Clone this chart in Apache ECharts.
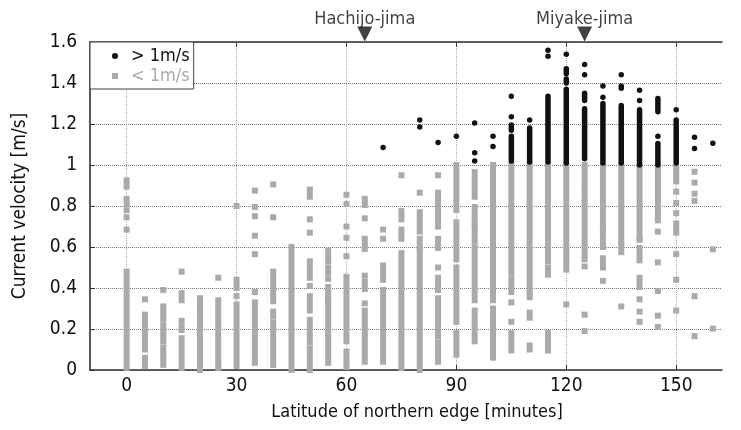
<!DOCTYPE html>
<html>
<head>
<meta charset="utf-8">
<script src="https://cdn.jsdelivr.net/npm/echarts@6/dist/echarts.min.js"></script>
<style>
  html, body { margin: 0; padding: 0; background: #fff; }
  #chart { width: 741px; height: 430px; }
</style>
</head>
<body>
<div id="chart"></div>
<script>
// latitude of northern edge [minutes], one column every 5 minutes
const latitudes = [0,5,10,15,20,25,30,35,40,45,50,55,60,65,70,75,80,85,90,95,100,105,110,115,120,125,130,135,140,145,150,155,160];

// velocities read per column; a number is one point, [lo, hi] is a run of packed points
const slowRuns = [ // < 1 m/s
  [[0.01,0.285],[0.31,0.48],0.685,0.745,0.78,[0.81,0.835],[0.895,0.925]],
  [[0.02,0.06],[0.10,0.17],0.19,[0.22,0.27],0.345],
  [[0.025,0.11],[0.14,0.215],0.245,[0.27,0.31],0.39],
  [[0.01,0.155],[0.195,0.21],0.24,[0.34,0.375],0.48],
  [[0.0,0.29],[0.315,0.35]],
  [0.01,[0.03,0.195],[0.22,0.34],0.45],
  [[0.02,0.32],0.36,[0.40,0.44],0.80],
  [[0.035,0.205],[0.22,0.33],0.38,0.565,0.655,0.75,0.795,0.875],
  [[0.025,0.23],[0.26,0.285],[0.335,0.375],[0.40,0.48],0.745,0.905],
  [[0.0,0.60]],
  [[0.0,0.105],[0.135,0.245],[0.29,0.36],0.41,[0.45,0.53],0.67,0.735,[0.845,0.88]],
  [[0.035,0.34],[0.345,0.405],0.445,[0.475,0.50],[0.53,0.58]],
  [0.015,[0.035,0.09],[0.14,0.39],[0.41,0.455],0.555,0.645,0.70,0.81,0.855],
  [[0.04,0.29],0.325,[0.395,0.43],0.46,[0.59,0.64],0.74,[0.805,0.835]],
  [[0.04,0.39],[0.44,0.51],0.64,0.685],
  [[0.01,0.57],[0.64,0.685],[0.735,0.775],0.95],
  [[0.0,0.585],[0.60,0.64],[0.675,0.77],0.865],
  [[0.04,0.135],[0.165,0.35],[0.39,0.45],0.50,[0.595,0.64],[0.70,0.865],0.95],
  [[0.075,0.18],[0.235,0.50],[0.54,0.72],[0.78,1.0]],
  [[0.14,0.205],[0.23,0.29],[0.34,0.595],[0.625,0.70],[0.715,0.795],[0.845,0.965]],
  [0.06,[0.08,0.195],[0.22,0.30],[0.34,0.82],[0.845,1.0]],
  [0.095,[0.12,0.18],0.235,0.33,[0.38,0.44],[0.47,1.0]],
  [[0.10,0.12],[0.255,0.28],0.355,[0.38,1.0]],
  [0.095,[0.12,0.18],[0.465,0.50],[0.53,1.0]],
  [0.32,[0.49,0.545],[0.56,1.0]],
  [0.19,0.27,0.505,[0.54,0.875],[0.90,1.0]],
  [0.435,[0.50,0.545],[0.60,0.68],[0.70,1.0]],
  [0.31,[0.575,0.61],[0.625,0.675],[0.70,1.0]],
  [0.235,0.285,0.345,[0.405,0.45],[0.535,0.595],0.635,[0.645,0.99]],
  [0.21,0.265,0.385,0.525,0.675,0.73,[0.75,0.99]],
  [0.29,0.44,0.565,[0.67,0.715],0.765,0.815,0.87,0.92,[0.94,0.99]],
  [0.165,0.36,0.825,0.86,0.914,0.967],
  [0.202,0.589]
];

const fastRuns = [ // > 1 m/s
  [],[],[],[],[],[],[],[],[],[],[],[],[],[],
  [1.085],
  [],
  [1.185,1.22],
  [1.11],
  [1.14],
  [1.02,1.06,1.205],
  [1.09,1.14],
  [[1.02,1.14],[1.17,1.195],1.235,1.335],
  [[1.015,1.18],1.22],
  [[1.015,1.335],1.53,1.56],
  [[1.01,1.37],[1.40,1.42],[1.445,1.47],1.54],
  [[1.03,1.275],[1.315,1.35],1.44,1.49],
  [[1.01,1.30],1.33,1.385],
  [[1.01,1.29],[1.375,1.385],1.44],
  [[1.0,1.27],1.315,1.365],
  [[1.0,1.105],1.14,[1.26,1.325]],
  [[1.01,1.22],1.27],
  [1.08,1.135],
  [1.106]
];

const xTicks = [0,30,60,90,120,150];
const islands = [['Hachijo-jima', 65], ['Miyake-jima', 125]];

const FONT = "'DejaVu Sans Condensed', 'DejaVu Sans', sans-serif";

function toRows(runs) {
  const rows = [];
  runs.forEach((col, i) => {
    col.forEach(r => {
      const lo = Array.isArray(r) ? r[0] : r;
      const hi = Array.isArray(r) ? r[1] : r;
      rows.push([latitudes[i], lo, hi]);
    });
  });
  return rows;
}

function runShape(size, round) {
  return function (params, api) {
    const top = api.coord([api.value(0), api.value(2)]);
    const bot = api.coord([api.value(0), api.value(1)]);
    return {
      type: 'rect',
      shape: {
        x: top[0] - size / 2,
        y: top[1] - size / 2,
        width: size,
        height: bot[1] - top[1] + size,
        r: round ? size / 2 : 0
      },
      style: { fill: api.visual('color') }
    };
  };
}

var myChart = echarts.init(document.getElementById('chart'));
var option = {
  animation: false,
  textStyle: { fontFamily: FONT },
  grid: { left: 90, right: 19, top: 42, bottom: 60 },
  legend: {
    orient: 'vertical',
    left: 90,
    top: 42,
    padding: [5, 4, 4, 22],
    itemGap: 2,
    itemWidth: 6,
    itemHeight: 6,
    borderColor: '#444',
    borderWidth: 1,
    backgroundColor: '#fff',
    textStyle: { fontSize: 18, fontFamily: FONT, padding: [0, 0, 0, 8] },
    data: [
      { name: '> 1m/s', icon: 'circle', textStyle: { color: '#111' } },
      { name: '< 1m/s', icon: 'rect', textStyle: { color: '#aaa' } }
    ]
  },
  xAxis: [{
    type: 'value',
    min: -10,
    max: 162.5,
    name: 'Latitude of northern edge [minutes]',
    nameLocation: 'middle',
    nameGap: 33,
    nameTextStyle: { fontSize: 18, color: '#111', padding: [0, 0, 0, 22] },
    axisLine: { lineStyle: { color: '#333', width: 1.5 } },
    axisTick: { inside: true, length: 5, customValues: xTicks, lineStyle: { color: '#333' } },
    axisLabel: { customValues: xTicks, fontSize: 19, color: '#111', margin: 7 },
    splitLine: { show: true, lineStyle: { color: '#aaa', type: 'dotted' } }
  }, {
    type: 'value',
    position: 'top',
    min: -10,
    max: 162.5,
    axisLine: { lineStyle: { color: '#333', width: 1.5 } },
    axisTick: { inside: true, length: 5, customValues: xTicks, lineStyle: { color: '#333' } },
    axisLabel: { show: false },
    splitLine: { show: false }
  }],
  yAxis: {
    type: 'value',
    position: 'left',
    min: 0,
    max: 1.6,
    interval: 0.2,
    name: 'Current velocity [m/s]',
    nameLocation: 'middle',
    nameGap: 60,
    nameTextStyle: { fontSize: 19, color: '#111' },
    axisLine: { show: true, onZero: false, lineStyle: { color: '#222', width: 1.5 } },
    axisTick: { show: true, inside: true, length: 5, lineStyle: { color: '#333' } },
    axisLabel: { fontSize: 19, color: '#111', margin: 13 },
    splitLine: { lineStyle: { color: '#777', type: 'dotted' } }
  },
  series: [{
    name: '< 1m/s',
    type: 'custom',
    color: '#aaa',
    renderItem: runShape(6, false),
    encode: { x: 0, y: [1, 2] },
    data: toRows(slowRuns)
  }, {
    name: '> 1m/s',
    type: 'custom',
    color: '#111',
    renderItem: runShape(5.5, true),
    encode: { x: 0, y: [1, 2] },
    data: toRows(fastRuns)
  }, {
    name: 'islands',
    type: 'scatter',
    symbol: 'triangle',
    symbolRotate: 180,
    symbolSize: [15, 15],
    symbolOffset: [0, -8],
    clip: false,
    itemStyle: { color: '#111' },
    label: {
      show: true,
      position: 'top',
      distance: -2,
      fontSize: 18,
      color: '#111',
      formatter: p => p.data[2]
    },
    data: islands.map(d => [d[1], 1.6, d[0]])
  }]
};
myChart.setOption(option);
</script>
</body>
</html>
